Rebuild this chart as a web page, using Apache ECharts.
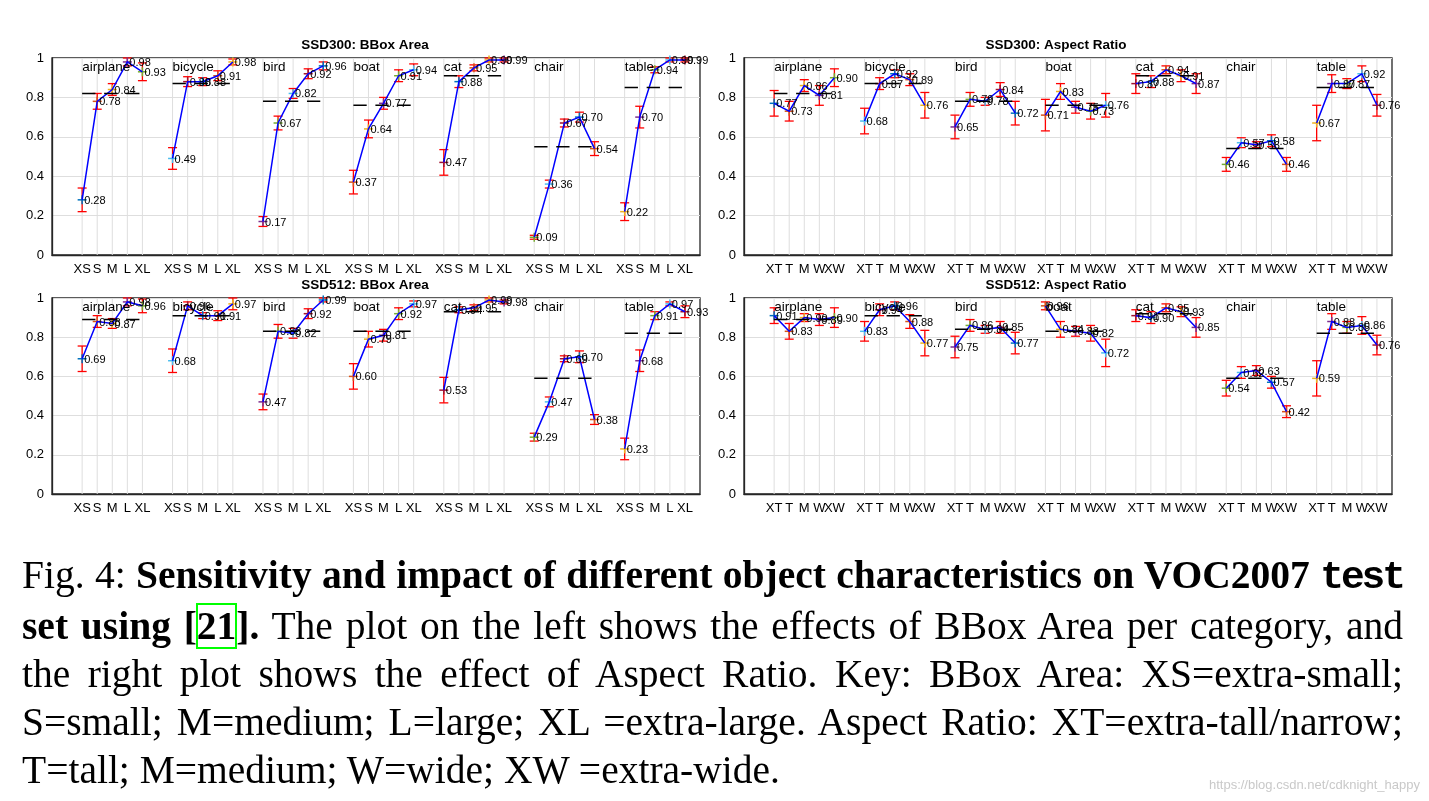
<!DOCTYPE html>
<html>
<head>
<meta charset="utf-8">
<script src="https://cdn.jsdelivr.net/npm/echarts@6/dist/echarts.min.js"></script>
<style>
html,body{margin:0;padding:0;background:#fff;}
#chart{position:absolute;left:0;top:0;width:1429px;height:801px;}
#cap{position:absolute;left:22px;top:551px;width:1381px;font-family:"Liberation Serif","Times New Roman",serif;font-size:39.5px;line-height:48px;color:#000;}
.ln{white-space:nowrap;text-align:justify;text-align-last:justify;}
.last{text-align:left;text-align-last:left;}
.tt{font-family:"Liberation Mono","DejaVu Sans Mono",monospace;font-weight:bold;letter-spacing:-3px;}
.ref{outline:2px solid #00ff00;outline-offset:-1px;}
#wm{position:absolute;right:9px;top:777px;font-family:"Liberation Sans",Arial,sans-serif;font-size:13px;color:#c9c9c9;}
</style>
</head>
<body>
<div id="chart"></div>
<div id="cap">
<div class="ln">Fig. 4: <b>Sensitivity and impact of different object characteristics on VOC2007 <span class="tt">test</span></b></div>
<div class="ln"><b>set using [<span class="ref">21</span>].</b> The plot on the left shows the effects of BBox Area per category, and</div>
<div class="ln">the right plot shows the effect of Aspect Ratio. Key: BBox Area: XS=extra-small;</div>
<div class="ln">S=small; M=medium; L=large; XL =extra-large. Aspect Ratio: XT=extra-tall/narrow;</div>
<div class="ln last">T=tall; M=medium; W=wide; XW =extra-wide.</div>
</div>
<div id="wm">https://blog.csdn.net/cdknight_happy</div>
<script>
// ---------------- DATA ----------------
const categories = ['airplane','bicycle','bird','boat','cat','chair','table'];
const bboxLabels = ['XS','S','M','L','XL'];
const arLabels = ['XT','T','M','W','XW'];
const yTicks = [0, 0.2, 0.4, 0.6, 0.8, 1];

// SSD300: BBox Area
const ssd300AreaVals = [
  [0.28,0.78,0.84,0.98,0.93],
  [0.49,0.88,0.88,0.91,0.98],
  [0.17,0.67,0.82,0.92,0.96],
  [0.37,0.64,0.77,0.91,0.94],
  [0.47,0.88,0.95,0.99,0.99],
  [0.09,0.36,0.67,0.70,0.54],
  [0.22,0.70,0.94,0.99,0.99]
];
const ssd300AreaErr = [
  [0.06,0.04,0.03,0.02,0.045],
  [0.055,0.025,0.02,0.025,0.015],
  [0.025,0.035,0.025,0.025,0.02],
  [0.06,0.045,0.03,0.03,0.03],
  [0.065,0.03,0.015,0.01,0.01],
  [0.01,0.02,0.02,0.025,0.035],
  [0.045,0.055,0.015,0.01,0.01]
];
const ssd300AreaAvg = [0.82,0.87,0.78,0.76,0.91,0.55,0.85];

// SSD300: Aspect Ratio
const ssd300ArVals = [
  [0.77,0.73,0.86,0.81,0.90],
  [0.68,0.87,0.92,0.89,0.76],
  [0.65,0.79,0.78,0.84,0.72],
  [0.71,0.83,0.75,0.73,0.76],
  [0.87,0.88,0.94,0.91,0.87],
  [0.46,0.57,0.56,0.58,0.46],
  [0.67,0.87,0.87,0.92,0.76]
];
const ssd300ArErr = [
  [0.065,0.05,0.03,0.05,0.045],
  [0.065,0.03,0.02,0.03,0.065],
  [0.06,0.035,0.02,0.035,0.06],
  [0.08,0.04,0.03,0.04,0.06],
  [0.05,0.03,0.02,0.03,0.05],
  [0.035,0.025,0.015,0.03,0.035],
  [0.09,0.045,0.025,0.04,0.055]
];
const ssd300ArAvg = [0.82,0.87,0.78,0.76,0.91,0.54,0.85];

// SSD512: BBox Area
const ssd512AreaVals = [
  [0.69,0.88,0.87,0.98,0.96],
  [0.68,0.96,0.91,0.91,0.97],
  [0.47,0.83,0.82,0.92,0.99],
  [0.60,0.79,0.81,0.92,0.97],
  [0.53,0.94,0.95,0.99,0.98],
  [0.29,0.47,0.69,0.70,0.38],
  [0.23,0.68,0.91,0.97,0.93]
];
const ssd512AreaErr = [
  [0.065,0.03,0.025,0.02,0.035],
  [0.06,0.02,0.015,0.025,0.03],
  [0.04,0.035,0.025,0.025,0.01],
  [0.065,0.04,0.03,0.03,0.015],
  [0.065,0.015,0.015,0.01,0.01],
  [0.02,0.025,0.015,0.03,0.025],
  [0.055,0.055,0.02,0.01,0.03]
];
const ssd512AreaAvg = [0.89,0.91,0.83,0.83,0.93,0.59,0.82];

// SSD512: Aspect Ratio
const ssd512ArVals = [
  [0.91,0.83,0.90,0.89,0.90],
  [0.83,0.94,0.96,0.88,0.77],
  [0.75,0.86,0.84,0.85,0.77],
  [0.96,0.84,0.83,0.82,0.72],
  [0.91,0.90,0.95,0.93,0.85],
  [0.54,0.62,0.63,0.57,0.42],
  [0.59,0.88,0.85,0.86,0.76]
];
const ssd512ArErr = [
  [0.04,0.04,0.02,0.03,0.05],
  [0.05,0.03,0.02,0.035,0.065],
  [0.055,0.03,0.02,0.03,0.055],
  [0.02,0.04,0.025,0.04,0.07],
  [0.03,0.03,0.02,0.025,0.05],
  [0.04,0.03,0.025,0.03,0.03],
  [0.09,0.04,0.03,0.045,0.05]
];
const ssd512ArAvg = [0.89,0.91,0.84,0.83,0.92,0.59,0.82];

// ---------------- LAYOUT / STYLE ----------------
const FONT = '"Liberation Sans", Arial, Helvetica, sans-serif';
const MCOLORS = ['#0072BD','#D95319','#EDB120','#7E2F8E','#77AC30','#4DBEEE','#A2142F'];
const SLOTS = 6; // 5 points + 1 gap per category

const panels = [
  {title:'SSD300: BBox Area', labels:bboxLabels, vals:ssd300AreaVals, errs:ssd300AreaErr, avg:ssd300AreaAvg, left:52, top:58, width:648, height:197, titleX:365, titleY:38},
  {title:'SSD300: Aspect Ratio', labels:arLabels, vals:ssd300ArVals, errs:ssd300ArErr, avg:ssd300ArAvg, left:744, top:58, width:648, height:197, titleX:1056, titleY:38},
  {title:'SSD512: BBox Area', labels:bboxLabels, vals:ssd512AreaVals, errs:ssd512AreaErr, avg:ssd512AreaAvg, left:52, top:298, width:648, height:196, titleX:365, titleY:278},
  {title:'SSD512: Aspect Ratio', labels:arLabels, vals:ssd512ArVals, errs:ssd512ArErr, avg:ssd512ArAvg, left:744, top:298, width:648, height:196, titleX:1056, titleY:278}
];

const grids = [], xAxes = [], yAxes = [], titles = [], series = [];

panels.forEach((p, pi) => {
  grids.push({left:p.left, top:p.top, width:p.width, height:p.height, show:true, borderColor:'#262626', borderWidth:1.3, backgroundColor:'#fff'});
  titles.push({text:p.title, left:p.titleX, top:p.titleY, textAlign:'center', padding:0,
    textStyle:{fontFamily:FONT, fontSize:13.5, fontWeight:'bold', color:'#000'}});
  const labs = p.labels;
  xAxes.push({type:'value', gridIndex:pi, min:-2, max:41, interval:1,
    axisLine:{show:true, onZero:false, lineStyle:{color:'#262626', width:1.3}},
    axisTick:{show:false},
    splitLine:{show:false},
    axisLabel:{color:'#000', fontFamily:FONT, fontSize:13, margin:8,
      formatter: v => { if (v < 0) return ''; const r = v % SLOTS; return r < 5 ? labs[r] : ''; }}
  });
  yAxes.push({type:'value', gridIndex:pi, min:0, max:1, interval:0.2,
    axisLine:{show:true, onZero:false, lineStyle:{color:'#262626', width:1.3}},
    axisTick:{show:false},
    splitLine:{show:true, lineStyle:{color:'#dedede', width:1}},
    axisLabel:{color:'#000', fontFamily:FONT, fontSize:13, margin:8,
      formatter: v => (v === 0 || v === 1) ? String(v) : v.toFixed(1)}
  });

  // vertical grid lines at labelled slots
  const gridSlots = [];
  for (let c = 0; c < categories.length; c++) for (let k = 0; k < 5; k++) gridSlots.push([c*SLOTS+k, 0]);
  series.push({type:'custom', xAxisIndex:pi, yAxisIndex:pi, data:gridSlots, encode:{x:0,y:1}, silent:true, z:1,
    renderItem:(params, api) => {
      const a = api.coord([api.value(0), 0]), b = api.coord([api.value(0), 1]);
      return {type:'line', shape:{x1:a[0], y1:a[1], x2:b[0], y2:b[1]}, style:{stroke:'#dedede', lineWidth:1}};
    }});

  // points
  const pts = [];
  p.vals.forEach((row, c) => row.forEach((v, k) => pts.push([c*SLOTS+k, v, p.errs[c][k], (c*5+k) % MCOLORS.length])));

  // error bars
  series.push({type:'custom', xAxisIndex:pi, yAxisIndex:pi, data:pts, encode:{x:0,y:1}, clip:false, z:3,
    renderItem:(params, api) => {
      const x = api.value(0), v = api.value(1), e = api.value(2);
      const t = api.coord([x, v+e]), b = api.coord([x, v-e]);
      const w = 4.5, st = {stroke:'#ff0000', lineWidth:1.3};
      return {type:'group', children:[
        {type:'line', shape:{x1:t[0], y1:t[1], x2:b[0], y2:b[1]}, style:st},
        {type:'line', shape:{x1:t[0]-w, y1:t[1], x2:t[0]+w, y2:t[1]}, style:st},
        {type:'line', shape:{x1:b[0]-w, y1:b[1], x2:b[0]+w, y2:b[1]}, style:st}
      ]};
    }});

  // plus markers
  series.push({type:'custom', xAxisIndex:pi, yAxisIndex:pi, data:pts, encode:{x:0,y:1}, clip:false, z:4,
    renderItem:(params, api) => {
      const c = api.coord([api.value(0), api.value(1)]);
      const col = MCOLORS[api.value(3)], s = 4.5, st = {stroke:col, lineWidth:1.5};
      return {type:'group', children:[
        {type:'line', shape:{x1:c[0]-s, y1:c[1], x2:c[0]+s, y2:c[1]}, style:st},
        {type:'line', shape:{x1:c[0], y1:c[1]-s, x2:c[0], y2:c[1]+s}, style:st}
      ]};
    }});

  // blue polyline per category
  const lineData = p.vals.map((row, c) => [c*SLOTS, ...row]);
  series.push({type:'custom', xAxisIndex:pi, yAxisIndex:pi, data:lineData, encode:{x:0,y:1}, clip:false, z:5,
    renderItem:(params, api) => {
      const x0 = api.value(0), pts2 = [];
      for (let k = 0; k < 5; k++) pts2.push(api.coord([x0+k, api.value(1+k)]));
      return {type:'polyline', shape:{points:pts2}, style:{stroke:'#0000ff', lineWidth:1.5, fill:null}};
    }});

  // value labels
  series.push({type:'custom', xAxisIndex:pi, yAxisIndex:pi, data:pts, encode:{x:0,y:1}, clip:false, z:6,
    renderItem:(params, api) => {
      const c = api.coord([api.value(0), api.value(1)]);
      return {type:'text', x:c[0]+2, y:c[1]+1, style:{text:api.value(1).toFixed(2), fill:'#000', font:'11px ' + FONT, align:'left', verticalAlign:'middle'}};
    }});

  // dashed average lines
  const avgData = p.avg.map((a, c) => [c*SLOTS, a, c*SLOTS+4]);
  series.push({type:'custom', xAxisIndex:pi, yAxisIndex:pi, data:avgData, encode:{x:0,y:1}, clip:false, z:7,
    renderItem:(params, api) => {
      const a = api.coord([api.value(0), api.value(1)]), b = api.coord([api.value(2), api.value(1)]);
      return {type:'line', shape:{x1:a[0], y1:a[1], x2:b[0], y2:b[1]}, style:{stroke:'#000', lineWidth:1.5, lineDash:[13.3, 8.7]}};
    }});

  // category names
  const catData = categories.map((n, c) => [c*SLOTS, 0.954, c]);
  series.push({type:'custom', xAxisIndex:pi, yAxisIndex:pi, data:catData, encode:{x:0,y:1}, clip:false, z:8,
    renderItem:(params, api) => {
      const c = api.coord([api.value(0), api.value(1)]);
      return {type:'text', x:c[0], y:c[1], style:{text:categories[api.value(2)], fill:'#000', font:'13.5px ' + FONT, align:'left', verticalAlign:'middle'}};
    }});
});

const chart = echarts.init(document.getElementById('chart'), null, {renderer:'canvas'});
chart.setOption({
  animation:false,
  backgroundColor:'#fff',
  title:titles,
  grid:grids,
  xAxis:xAxes,
  yAxis:yAxes,
  series:series
});
</script>
</body>
</html>
